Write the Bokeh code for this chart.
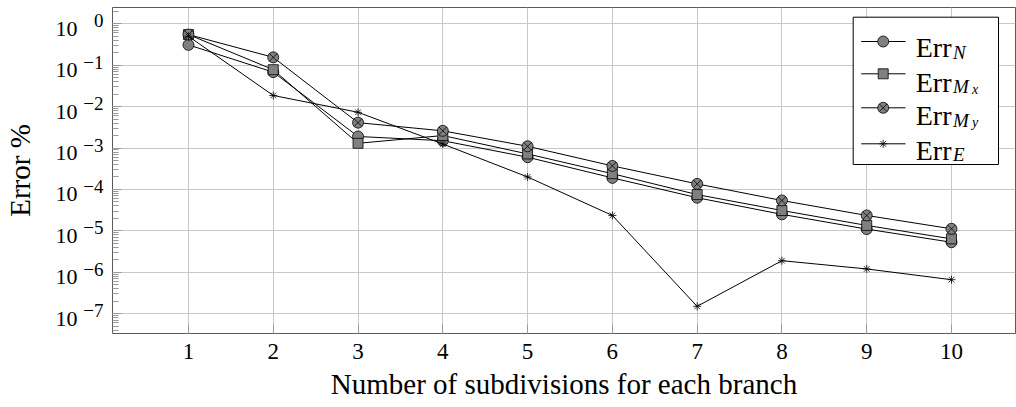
import math
from bokeh.plotting import figure
from bokeh.models import Range1d, FixedTicker, LogAxis, LogScale
from bokeh.embed import file_html
from bokeh.resources import INLINE
from bokeh.core.properties import value

# ---------------- data ----------------
subdivisions = [1, 2, 3, 4, 5, 6, 7, 8, 9, 10]
err_N = [0.31, 0.068, 0.0019, 0.0015, 6.0e-4, 1.9e-4, 6.3e-5, 2.5e-5, 1.1e-5, 5.3e-6]
err_Mx = [0.55, 0.078, 0.0013, 0.0020, 7.2e-4, 2.4e-4, 7.5e-5, 3.1e-5, 1.35e-5, 6.4e-6]
err_My = [0.55, 0.155, 0.0041, 0.0026, 1.1e-3, 3.7e-4, 1.36e-4, 5.4e-5, 2.35e-5, 1.12e-5]
err_E = [0.50, 0.0186, 0.0073, 0.00125, 2.0e-4, 2.35e-5, 1.5e-7, 1.9e-6, 1.2e-6, 6.6e-7]

x_ticks = [1, 2, 3, 4, 5, 6, 7, 8, 9, 10]
y_ticks = [1e0, 1e-1, 1e-2, 1e-3, 1e-4, 1e-5, 1e-6, 1e-7]
y_tick_base = "10"
y_tick_exponents = ["0", "−1", "−2", "−3", "−4", "−5", "−6", "−7"]

legend_main = ["Err", "Err", "Err", "Err"]
legend_sub = ["N", "M", "M", "E"]
legend_subsub = ["", "x", "y", ""]

x_title = "Number of subdivisions for each branch"
y_title = "Error %"

# ---------------- layout ----------------
W, H = 1016, 407
FL, FR, FT, FB = 112, 1015, 7, 333
X0, X1 = 0.104, 10.755
LY0, LY1 = -7.48, 0.394
PXD = (FB - FT) / (LY1 - LY0)       # pixels per decade
FONT = "Liberation Serif"

p = figure(width=W, height=H, y_axis_type="log",
           x_range=Range1d(X0, X1), y_range=Range1d(10 ** LY0, 10 ** LY1),
           output_backend="svg", toolbar_location=None,
           min_border_left=FL, min_border_right=W - FR,
           min_border_top=FT, min_border_bottom=H - FB)
p.background_fill_color = "white"
p.border_fill_color = "white"
p.outline_line_color = "#5a5a5a"
p.outline_line_width = 1

minor = []
for d in range(-8, 1):
    for k in range(2, 10):
        minor.append(k * 10.0 ** d)

xax = p.xaxis[0]
yax = p.yaxis[0]
xax.ticker = FixedTicker(ticks=x_ticks)
yax.ticker = FixedTicker(ticks=y_ticks, minor_ticks=minor)
yax.major_label_overrides = {t: "" for t in y_ticks}

for ax in (xax, yax):
    ax.axis_line_color = None
    ax.major_tick_in = 9
    ax.major_tick_out = 0
    ax.major_tick_line_color = "#9a9a9a"
    ax.minor_tick_in = 6
    ax.minor_tick_out = 0
    ax.minor_tick_line_color = "#9a9a9a"
    ax.major_label_text_font = FONT
    ax.major_label_text_font_size = "23px"
    ax.major_label_text_color = "black"
    ax.axis_label_text_font = FONT
    ax.axis_label_text_font_style = "normal"
    ax.axis_label_text_color = "black"
    ax.axis_label_text_font_size = "29px"

xax.minor_tick_line_color = None
xax.major_label_standoff = 10
xax.axis_label = x_title
xax.axis_label_standoff = 6
yax.major_label_text_font_size = "0px"
yax.major_label_standoff = 0

# y tick labels as "10" plus a raised exponent: two extra label-only axes
s_sup = 3.0 / PXD
s_base = 5.0 / PXD
p.extra_y_ranges = {
    "sup": Range1d(10 ** (LY0 - s_sup), 10 ** (LY1 - s_sup)),
    "base": Range1d(10 ** (LY0 + s_base), 10 ** (LY1 + s_base)),
}
p.extra_y_scales = {"sup": LogScale(), "base": LogScale()}

sup_axis = LogAxis(y_range_name="sup",
                   ticker=FixedTicker(ticks=y_ticks, minor_ticks=[]),
                   major_label_overrides={t: e for t, e in zip(y_ticks, y_tick_exponents)},
                   axis_line_color=None, major_tick_line_color=None,
                   minor_tick_line_color=None, major_tick_in=0, major_tick_out=0,
                   minor_tick_in=0, minor_tick_out=0,
                   major_label_text_font=FONT, major_label_text_font_size="19px",
                   major_label_text_color="black", major_label_standoff=9)
p.add_layout(sup_axis, "left")

base_axis = LogAxis(y_range_name="base",
                    ticker=FixedTicker(ticks=y_ticks, minor_ticks=[]),
                    major_label_overrides={t: y_tick_base for t in y_ticks},
                    axis_line_color=None, major_tick_line_color=None,
                    minor_tick_line_color=None, major_tick_in=0, major_tick_out=0,
                    minor_tick_in=0, minor_tick_out=0,
                    major_label_text_font=FONT, major_label_text_font_size="22px",
                    major_label_text_color="black", major_label_standoff=3,
                    axis_label=y_title, axis_label_text_font=FONT,
                    axis_label_text_font_style="normal", axis_label_text_color="black",
                    axis_label_text_font_size="29px", axis_label_standoff=17)
p.add_layout(base_axis, "left")

p.xgrid.grid_line_color = "#c8c8c8"
p.ygrid.grid_line_color = "#c8c8c8"
p.xgrid.grid_line_width = 1
p.ygrid.grid_line_width = 1


def dx(px):
    return X0 + (px - FL) / (FR - FL) * (X1 - X0)


def dy(py):
    return 10 ** (LY1 - (py - FT) / PXD)


FILL = "#808080"
series = [
    (err_N, "circle", 11),
    (err_Mx, "square", 10),
    (err_My, "circle_x", 11),
    (err_E, "asterisk", 8),
]
for ys, mk, sz in series:
    p.line(subdivisions, ys, line_color="black", line_width=1)
    if mk == "asterisk":
        p.scatter(subdivisions, ys, marker=mk, size=sz, line_color="black",
                  line_width=0.8)
    else:
        p.scatter(subdivisions, ys, marker=mk, size=sz, fill_color=FILL,
                  line_color="black", line_width=0.8)

# ---------------- legend (drawn manually) ----------------
p.quad(left=[dx(852.7)], right=[dx(998)], top=[dy(16.7)], bottom=[dy(164)],
       fill_color="white", line_color="black", line_width=1)

row_marker = [41, 73.3, 107.3, 143.3]
row_base = [47.3, 81.7, 115.2, 150]
sub_base = [51.5, 85.5, 119.5, 154]
subsub_base = [0, 89, 122, 0]

for i, (ys, mk, sz) in enumerate(series):
    ym = dy(row_marker[i])
    p.segment(x0=[dx(860.7)], x1=[dx(905)], y0=[ym], y1=[ym],
              line_color="black", line_width=1)
    if mk == "asterisk":
        p.scatter([dx(882.7)], [ym], marker=mk, size=sz, line_color="black",
                  line_width=0.8)
    else:
        p.scatter([dx(882.7)], [ym], marker=mk, size=sz, fill_color=FILL,
                  line_color="black", line_width=0.8)
    p.text(x=[dx(951)], y=[dy(row_base[i])], text=[legend_main[i]],
           text_font=value(FONT), text_font_size="28px", text_align="right",
           text_baseline="alphabetic", text_color="black")
    p.text(x=[dx(952.5)], y=[dy(sub_base[i])], text=[legend_sub[i]],
           text_font=value(FONT), text_font_size="19px", text_font_style="italic",
           text_align="left", text_baseline="alphabetic", text_color="black")
    if legend_subsub[i]:
        p.text(x=[dx(971.5)], y=[dy(subsub_base[i])], text=[legend_subsub[i]],
               text_font=value(FONT), text_font_size="14px", text_font_style="italic",
               text_align="left", text_baseline="alphabetic", text_color="black")

open("out.html", "w").write(file_html(p, INLINE))
